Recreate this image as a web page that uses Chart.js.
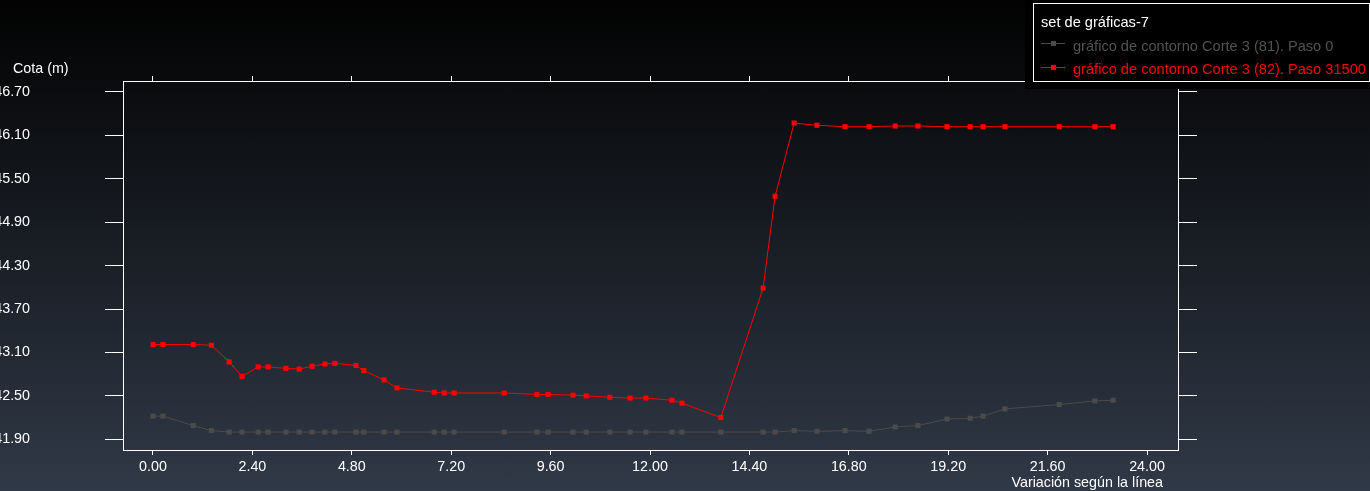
<!DOCTYPE html>
<html>
<head>
<meta charset="utf-8">
<script src="https://cdn.jsdelivr.net/npm/chart.js@4/dist/chart.umd.min.js"></script>
<style>
html,body{margin:0;padding:0;}
body{width:1370px;height:491px;overflow:hidden;background:linear-gradient(to bottom,#020202 0%,#303947 100%);}
canvas{display:block;}
</style>
</head>
<body>
<canvas id="c" width="1370" height="491"></canvas>
<script>
const distancia = [0.00,0.24,0.97,1.41,1.84,2.15,2.54,2.78,3.21,3.53,3.84,4.15,4.39,4.90,5.09,5.58,5.89,6.79,7.03,7.27,8.48,9.27,9.54,10.14,10.46,11.03,11.52,11.90,12.53,12.77,13.71,14.73,15.02,15.48,16.03,16.71,17.29,17.92,18.47,19.17,19.73,20.04,20.57,21.88,22.74,23.18];
const cotaPaso0 = [42.22,42.22,42.09,42.02,
  42.00,42.00,42.00,42.00,42.00,42.00,42.00,42.00,42.00,42.00,
  42.00,42.00,42.00,42.00,42.00,42.00,42.00,42.00,42.00,42.00,
  42.00,42.00,42.00,42.00,42.00,42.00,42.00,42.00,42.00,
  42.02,42.01,42.02,42.01,42.07,42.09,42.18,42.19,42.22,42.32,42.38,42.43,42.44];
const cotaPaso31500 = [43.21,43.21,43.21,43.20,42.97,42.77,42.90,42.90,42.88,42.87,
  42.91,42.94,42.95,42.92,42.85,42.72,42.61,42.55,42.54,42.54,
  42.54,42.52,42.52,42.51,42.50,42.48,42.47,42.47,42.44,42.40,
  42.20,43.99,45.26,46.27,46.24,46.22,46.22,46.23,46.23,46.22,
  46.22,46.22,46.22,46.22,46.22,46.22];
const xTicks = [0.00,2.40,4.80,7.20,9.60,12.00,14.40,16.80,19.20,21.60,24.00];
const yTicks = [41.90,42.50,43.10,43.70,44.30,44.90,45.50,46.10,46.70];
const legendTitle = 'set de gráficas-7';
const serieLabels = ['gráfico de contorno Corte 3 (81). Paso 0','gráfico de contorno Corte 3 (82). Paso 31500'];
const serieColors = ['#4b4b4b','#ff0000'];
const legendTextColors = ['#525252','#ff0000'];
const xTitle = 'Variación según la línea';
const yTitle = 'Cota (m)';

const FONT = '"Liberation Sans", Arial, sans-serif';
const FS = 14.3;
const X_MIN = -0.724, X_MAX = 24.748, Y_MIN = 41.752, Y_MAX = 46.852;

function pts(ys){ return distancia.map((x,i)=>({x:x,y:ys[i]})); }
const setTicks = arr => (scale => { scale.ticks = arr.map(v=>({value:v})); });

const decor = {
  id:'decor',
  afterDraw(chart){
    const ctx = chart.ctx;
    ctx.save();
    ctx.font = FS + 'px ' + FONT;
    ctx.fillStyle = '#ffffff';
    ctx.textBaseline = 'alphabetic';
    ctx.textAlign = 'left';
    ctx.fillText(yTitle, 13, 73);
    ctx.textAlign = 'right';
    ctx.fillText(xTitle, 1163, 487);
    // legend
    ctx.fillStyle = '#000000';
    ctx.fillRect(1025, 0, 345, 89);
    ctx.strokeStyle = '#ffffff';
    ctx.lineWidth = 1;
    ctx.strokeRect(1033.5, 3.5, 336, 78);
    ctx.textAlign = 'left';
    ctx.fillStyle = '#ffffff';
    ctx.font = '14.6px ' + FONT;
    ctx.fillText(legendTitle, 1041, 26.5);
    const rows = [[43, 50.5], [67, 74]];
    for (let i = 0; i < 2; i++) {
      const [ly, ty] = rows[i];
      ctx.strokeStyle = serieColors[i];
      ctx.beginPath();
      ctx.moveTo(1041, ly + 0.5);
      ctx.lineTo(1065, ly + 0.5);
      ctx.stroke();
      ctx.fillStyle = serieColors[i];
      ctx.fillRect(1051, ly - 2, 5, 5);
      ctx.fillStyle = legendTextColors[i];
      ctx.fillText(serieLabels[i], 1073, ty);
    }
    ctx.restore();
  }
};

const gridBase = {drawOnChartArea:false, drawTicks:true, color:'#ffffff', lineWidth:1};
const borderBase = {display:true, color:'#ffffff', width:1};
function fixV(w){ return s => { s.width = w; s.paddingTop = 0; s.paddingBottom = 0; }; }
function fixH(h){ return s => { s.height = h; }; }

new Chart(document.getElementById('c'), {
  type:'line',
  data:{
    datasets:[
      {label:serieLabels[0], data:pts(cotaPaso0), borderColor:serieColors[0], backgroundColor:serieColors[0],
       pointBackgroundColor:serieColors[0], borderWidth:1, pointStyle:'rect', pointRadius:3.6, pointBorderWidth:0,
       pointHoverRadius:3.6, tension:0, order:1},
      {label:serieLabels[1], data:pts(cotaPaso31500), borderColor:serieColors[1], backgroundColor:serieColors[1],
       pointBackgroundColor:serieColors[1], borderWidth:1, pointStyle:'rect', pointRadius:3.6, pointBorderWidth:0,
       pointHoverRadius:3.6, tension:0, order:0}
    ]
  },
  options:{
    responsive:false,
    devicePixelRatio:1,
    animation:false,
    layout:{padding:0},
    plugins:{legend:{display:false}, tooltip:{enabled:false}},
    scales:{
      x:{type:'linear', position:'bottom', min:X_MIN, max:X_MAX,
         afterBuildTicks:setTicks(xTicks), afterFit:fixH(41),
         grid:{...gridBase, tickLength:5}, border:borderBase,
         ticks:{color:'#ffffff', font:{family:FONT, size:FS}, padding:3, maxRotation:0, autoSkip:false,
                callback:v=>Number(v).toFixed(2)}},
      x2:{type:'linear', position:'top', min:X_MIN, max:X_MAX,
         afterBuildTicks:setTicks(xTicks), afterFit:fixH(81),
         grid:{...gridBase, tickLength:5}, border:borderBase,
         ticks:{display:false}},
      y:{type:'linear', position:'left', min:Y_MIN, max:Y_MAX,
         afterBuildTicks:setTicks(yTicks), afterFit:fixV(123),
         grid:{...gridBase, tickLength:18}, border:borderBase,
         ticks:{color:'#ffffff', font:{family:FONT, size:FS}, padding:75, autoSkip:false,
                callback:v=>Number(v).toFixed(2)}},
      y2:{type:'linear', position:'right', min:Y_MIN, max:Y_MAX,
         afterBuildTicks:setTicks(yTicks), afterFit:fixV(192),
         grid:{...gridBase, tickLength:19}, border:borderBase,
         ticks:{display:false}}
    }
  },
  plugins:[decor]
});
</script>
</body>
</html>
